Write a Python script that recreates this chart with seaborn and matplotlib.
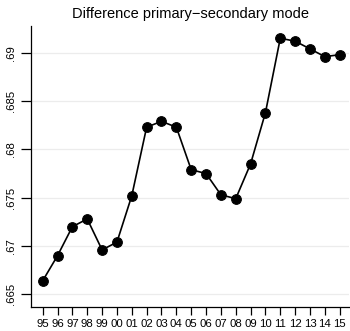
import matplotlib
matplotlib.use("Agg")
import matplotlib.pyplot as plt
import seaborn as sns
import pandas as pd

years = ["95", "96", "97", "98", "99", "00", "01", "02", "03", "04", "05",
         "06", "07", "08", "09", "10", "11", "12", "13", "14", "15"]
diff = [0.6664, 0.6690, 0.6720, 0.6728, 0.6696, 0.6704, 0.6752, 0.6823,
        0.6829, 0.6823, 0.6779, 0.6775, 0.6753, 0.6749, 0.6785, 0.6838,
        0.6915, 0.6912, 0.6904, 0.6896, 0.6898]
yticks = [0.665, 0.67, 0.675, 0.68, 0.685, 0.69]
ytick_labels = [".665", ".67", ".675", ".68", ".685", ".69"]

sns.set_style("white")
plt.rcParams["font.family"] = ["Liberation Sans", "DejaVu Sans"]
plt.rcParams["text.color"] = "black"
plt.rcParams["xtick.color"] = "black"
plt.rcParams["ytick.color"] = "black"

df = pd.DataFrame({"pos": range(len(years)), "diff": diff})

fig = plt.figure(figsize=(3.5, 3.31), dpi=100)
ax = fig.add_axes([0.088, 0.074, 0.908, 0.846])

for v in yticks:
    ax.axhline(v, color="#ececec", lw=0.9, zorder=0)

sns.lineplot(data=df, x="pos", y="diff", ax=ax, color="black", lw=1.2,
             marker="o", markersize=7, markeredgecolor="black",
             markerfacecolor="black", zorder=3)

ax.set_xlim(-0.8, 20.6)
ax.set_ylim(0.66374, 0.69272)
ax.set_xticks(range(len(years)))
ax.set_xticklabels(years, fontsize=8.2, color="black")
ax.set_yticks(yticks)
ax.set_yticklabels(ytick_labels, fontsize=8.2, rotation=90, va="center",
                   color="black")
ax.set_xlabel("")
ax.set_ylabel("")
ax.tick_params(axis="x", bottom=True, length=6, width=0.9, color="black", pad=3)
ax.tick_params(axis="y", left=True, length=7, width=0.9, color="black", pad=4)

for side in ["top", "right"]:
    ax.spines[side].set_visible(False)
for side in ["left", "bottom"]:
    ax.spines[side].set_color("black")
    ax.spines[side].set_linewidth(0.9)

fig.text(0.543, 0.958, "Difference primary\u2212secondary mode", ha="center",
         va="center", fontsize=10.5, color="black")

fig.savefig("out.png", dpi=100)
